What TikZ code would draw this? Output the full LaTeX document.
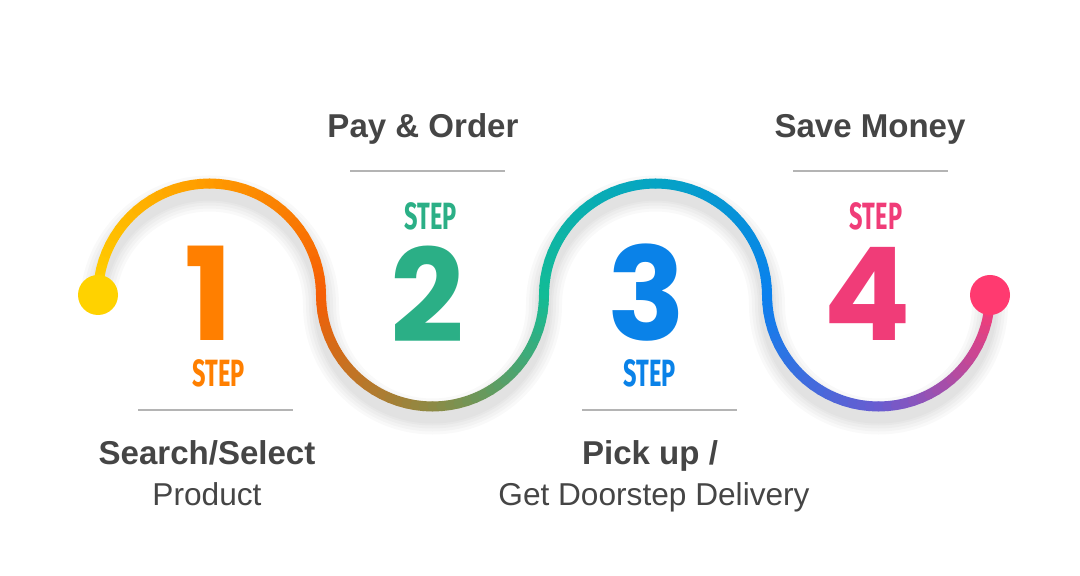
\documentclass[tikz,border=0pt]{standalone}
\usepackage{fontspec}
\setmainfont{Liberation Sans}
\newfontfamily\numfont{Poppins}
\newfontfamily\stepfont[FakeStretch=0.62]{Fira Sans}

% colours along the wave
\definecolor{col0}{HTML}{FFD200}
\definecolor{col1}{HTML}{FF9A00}
\definecolor{col2}{HTML}{F55E05}
\definecolor{col3}{HTML}{8C8A45}
\definecolor{col4}{HTML}{12BC96}
\definecolor{col5}{HTML}{05A4C4}
\definecolor{col6}{HTML}{0A80EE}
\definecolor{col7}{HTML}{6A5CD0}
\definecolor{col8}{HTML}{FF3A70}
% texts
\definecolor{txtgray}{HTML}{454545}
\definecolor{rulegray}{HTML}{B4B4B4}
\definecolor{onecol}{HTML}{FF7F00}
\definecolor{twocol}{HTML}{2BAF86}
\definecolor{threecol}{HTML}{0A82E8}
\definecolor{fourcol}{HTML}{F03C78}

\begin{document}
\begin{tikzpicture}[
    x=0.025cm, y=-0.025cm,
    wave/.style={line width=0.25cm, line cap=round},
    shade/.style={line width=#1, black, opacity=0.025},
    bignum/.style={inner sep=0pt, font=\numfont\bfseries\fontsize{92}{92}\selectfont},
    steplbl/.style={inner sep=0pt, font=\stepfont\bfseries\fontsize{27}{27}\selectfont},
    title/.style={anchor=base, inner sep=0pt, text=txtgray, font=\bfseries\fontsize{23.5}{26}\selectfont},
    subtitle/.style={anchor=base, inner sep=0pt, text=txtgray, font=\fontsize{22.5}{25}\selectfont},
    rule/.style={rulegray, line width=1.5pt}
]
    \useasboundingbox (0,0) rectangle (1080,576);

    % soft shadow of the wave
    \foreach \w in {0.9cm,0.75cm,0.6cm,0.45cm,0.35cm}
        \draw[shade=\w] (98,305) arc (180:360:111.5) arc (180:0:111.5)
            arc (180:360:111.5) arc (180:0:111.5);

    % wave, drawn in short pieces for the colour run
    \foreach \i in {0,...,159}{
        \pgfmathtruncatemacro\k{int(\i/40)}
        \pgfmathsetmacro\cx{209.5+223*\k}
        \pgfmathsetmacro\sg{ifthenelse(mod(\k,2)==0,-1,1)}
        \pgfmathsetmacro\aa{180-4.5*(\i-40*\k)}
        \pgfmathsetmacro\ab{\aa-4.5}
        \pgfmathtruncatemacro\j{int(\i/20)}
        \pgfmathtruncatemacro\jj{\j+1}
        \pgfmathtruncatemacro\p{100-5*(\i-20*\j)}
        \draw[wave, col\j!\p!col\jj]
            ({\cx+111.5*cos(\aa)}, {295+\sg*111.5*sin(\aa)}) --
            ({\cx+111.5*cos(\ab)}, {295+\sg*111.5*sin(\ab)});
    }

    % end dots
    \fill[col0] (98,295) circle (20);
    \fill[col8] (990,295) circle (20);

    % Step 1
    \node[bignum, text=onecol] (num1) at (209,293) {1};
    \node[steplbl, text=onecol] (step1) at (219,373) {STEP};
    \coordinate (r1a) at (138,410);
    \coordinate (r1b) at (293,410);
    \draw[rule] (r1a) -- (r1b);
    \node[title] (t1) at (207,465) {Search/Select};
    \node[subtitle] (s1) at (207,506) {Product};

    % Step 2
    \node[title] (t2) at (423,138) {Pay \& Order};
    \coordinate (r2a) at (350,171);
    \coordinate (r2b) at (505,171);
    \draw[rule] (r2a) -- (r2b);
    \node[steplbl, text=twocol] (step2) at (431,216) {STEP};
    \node[bignum, text=twocol] (num2) at (427,294) {2};

    % Step 3
    \node[bignum, text=threecol] (num3) at (647,293) {3};
    \node[steplbl, text=threecol] (step3) at (650,373) {STEP};
    \coordinate (r3a) at (582,410);
    \coordinate (r3b) at (737,410);
    \draw[rule] (r3a) -- (r3b);
    \node[title] (t3) at (650,465) {Pick up /};
    \node[subtitle] (s3) at (654,506) {Get Doorstep Delivery};

    % Step 4
    \node[title] (t4) at (870,138) {Save Money};
    \coordinate (r4a) at (793,171);
    \coordinate (r4b) at (948,171);
    \draw[rule] (r4a) -- (r4b);
    \node[steplbl, text=fourcol] (step4) at (876,216) {STEP};
    \node[bignum, text=fourcol] (num4) at (867,294) {4};
\end{tikzpicture}
\end{document}
